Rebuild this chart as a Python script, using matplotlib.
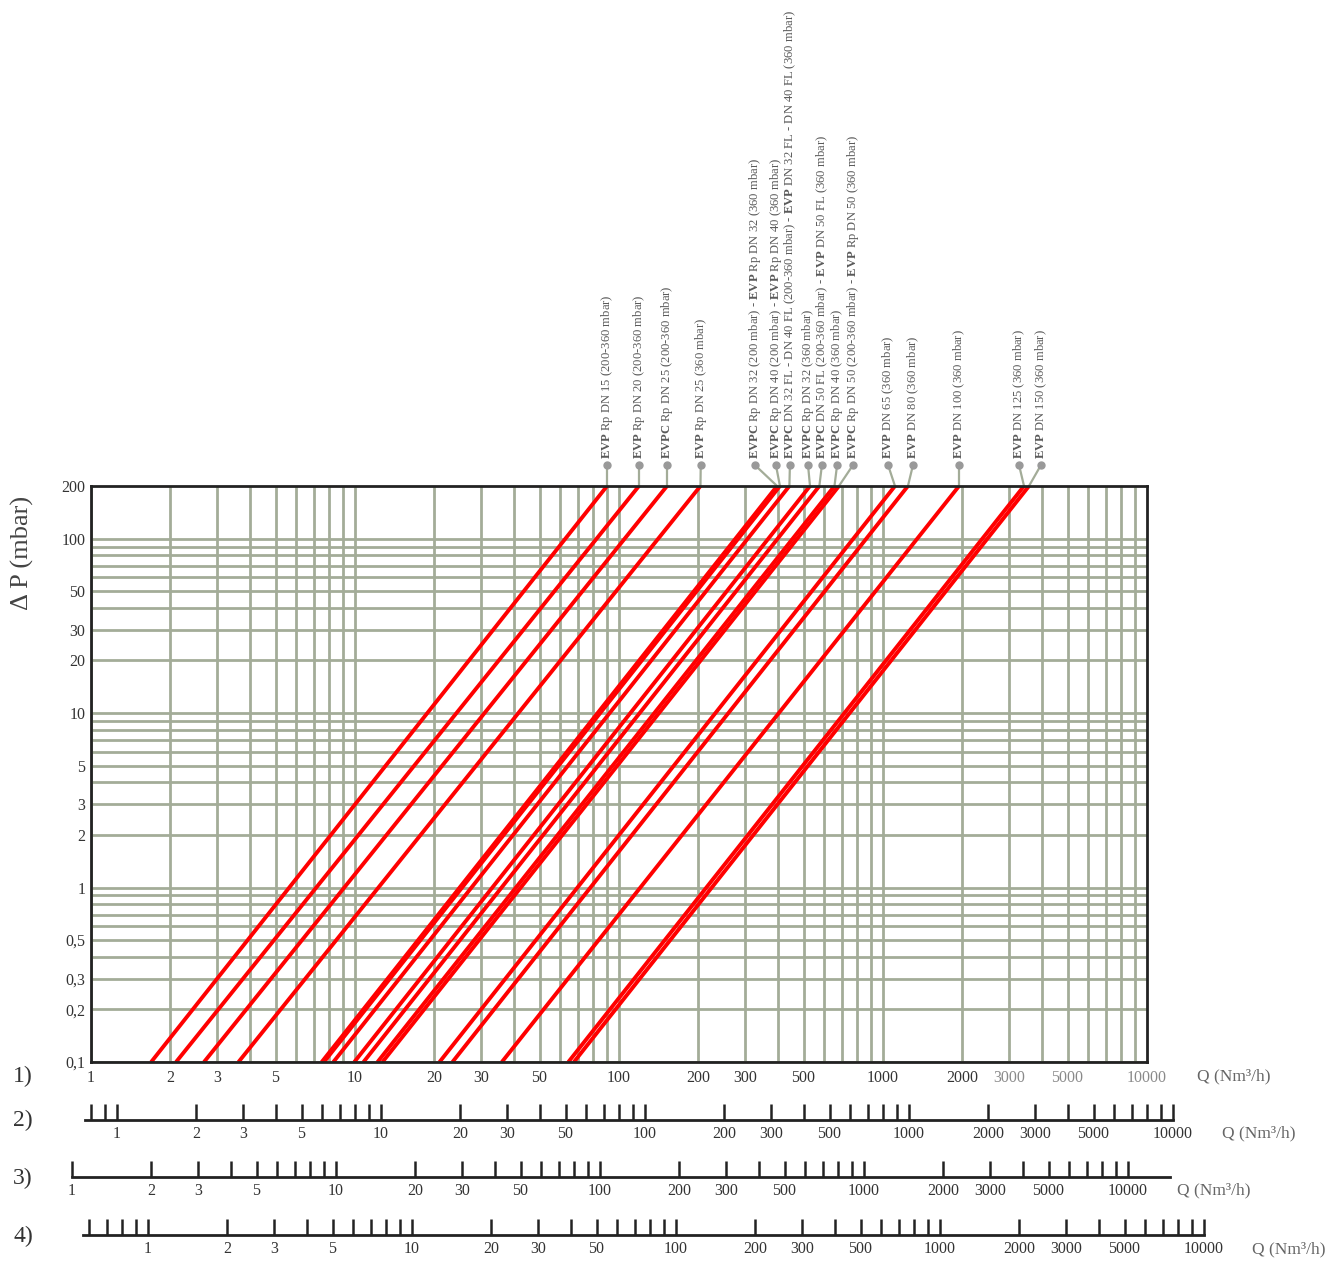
import matplotlib
matplotlib.use("Agg")
import matplotlib.pyplot as plt
import matplotlib.transforms as mtransforms
from matplotlib.ticker import NullLocator

plt.rcParams["font.family"] = ["Liberation Serif", "DejaVu Serif"]
plt.rcParams["mathtext.fontset"] = "custom"
plt.rcParams["mathtext.rm"] = "Liberation Serif"
plt.rcParams["mathtext.bf"] = "Liberation Serif:bold"

# flow (Nm3/h) at the bottom (0.1 mbar) and the top (200 mbar) of each curve
dp_low, dp_high = 0.1, 200
q_low = [1.69, 2.10, 2.68, 3.62, 7.48, 7.63, 8.28, 9.94, 10.77, 12.17, 12.71,
         20.9, 23.4, 36.0, 64.3, 67.5]
q_high = [90.1, 119, 152, 203.5, 397, 407, 442, 529, 574, 655, 681,
          1110, 1243, 1941, 3421, 3573]

B = r"$\mathbf{EVP}$"
BC = r"$\mathbf{EVPC}$"
labels = [
    B + " Rp DN 15 (200-360 mbar)",
    B + " Rp DN 20 (200-360 mbar)",
    BC + " Rp DN 25 (200-360 mbar)",
    B + " Rp DN 25 (360 mbar)",
    BC + " Rp DN 32 (200 mbar) - " + B + " Rp DN 32 (360 mbar)",
    BC + " Rp DN 40 (200 mbar) - " + B + " Rp DN 40 (360 mbar)",
    BC + " DN 32 FL - DN 40 FL (200-360 mbar) - " + B + " DN 32 FL - DN 40 FL (360 mbar)",
    BC + " Rp DN 32 (360 mbar)",
    BC + " DN 50 FL (200-360 mbar) - " + B + " DN 50 FL (360 mbar)",
    BC + " Rp DN 40 (360 mbar)",
    BC + " Rp DN 50 (200-360 mbar) - " + B + " Rp DN 50 (360 mbar)",
    B + " DN 65 (360 mbar)",
    B + " DN 80 (360 mbar)",
    B + " DN 100 (360 mbar)",
    B + " DN 125 (360 mbar)",
    B + " DN 150 (360 mbar)",
]
# where each label's dot sits along the Q axis
label_q = [90.1, 119, 152, 204, 327, 393, 444, 520, 587, 670, 770,
           1045, 1299, 1941, 3275, 3967]

dp_ticks = [0.1, 0.2, 0.3, 0.5, 1, 2, 3, 5, 10, 20, 30, 50, 100, 200]
dp_ticklabels = ["0,1", "0,2", "0,3", "0,5", "1", "2", "3", "5",
                 "10", "20", "30", "50", "100", "200"]
q_ticks = [1, 2, 3, 5, 10, 20, 30, 50, 100, 200, 300, 500,
           1000, 2000, 3000, 5000, 10000]
q_ticklabels = [str(v) for v in q_ticks]

q_grid = [m * 10 ** k for k in range(4) for m in range(1, 10)]
dp_grid = [m * 10.0 ** k for k in (-1, 0, 1) for m in range(1, 10)] + [100]

# extra scales 1)..4): first tick value of each row
row_names = ["1)", "2)", "3)", "4)"]
row_first_tick = [None, 0.8, 1, 0.6]

W, H = 1335, 1271
DEC = 264.0  # pixels per decade on the Q scales
GRID = "#a3ac98"
DARK = "#222222"


def rect(x0, y0, x1, y1):
    return [x0 / W, 1 - y1 / H, (x1 - x0) / W, (y1 - y0) / H]


fig = plt.figure(figsize=(W / 100, H / 100), dpi=100)
ax = fig.add_axes(rect(91, 486, 1147, 1062))
ax.set_xscale("log")
ax.set_yscale("log")

for q in q_grid:
    ax.axvline(q, color=GRID, lw=2.0, zorder=1)
for p in dp_grid:
    ax.axhline(p, color=GRID, lw=2.0, zorder=1)

for lo, hi in zip(q_low, q_high):
    ax.plot([lo, hi], [dp_low, dp_high], color="#ff0000", lw=2.8,
            solid_capstyle="butt", zorder=3)

ax.set_xlim(1, 10000)
ax.set_ylim(dp_low, dp_high)
ax.xaxis.set_minor_locator(NullLocator())
ax.yaxis.set_minor_locator(NullLocator())
ax.set_xticks(q_ticks, labels=q_ticklabels)
ax.set_yticks(dp_ticks, labels=dp_ticklabels)
ax.tick_params(length=0, labelsize=11.5, colors="#333333")
ax.tick_params(axis="x", pad=6)
ax.tick_params(axis="y", pad=4)
for t in ax.get_xticklabels()[-3:]:
    t.set_color("#8a8a8a")
for s in ax.spines.values():
    s.set_color(DARK)
    s.set_linewidth(2.0)
    s.set_zorder(4)

# label leaders above the chart
trans = mtransforms.blended_transform_factory(ax.transData, ax.transAxes)
dot_y = 1 + 21 / 576
for text, qd, qt in zip(labels, label_q, q_high):
    ax.plot([qd, qt], [dot_y, 1.0], color=GRID, lw=1.6, transform=trans,
            clip_on=False, zorder=2)
    ax.plot([qd], [dot_y], "o", ms=5, color="#999999", transform=trans,
            clip_on=False, zorder=2)
    ax.annotate(text, xy=(qd, dot_y), xycoords=trans, xytext=(0, 4),
                textcoords="offset points", rotation=90, ha="center",
                va="bottom", fontsize=9.1, color="#5a5a5a")

# extra Q scales under the chart: (left px, right px, spine y px, px of "1")
rows = [(85, 1173, 1120, 117), (72, 1170, 1177, 72), (83, 1204, 1235, 148)]
for (x0, x1, yb, one), first in zip(rows, row_first_tick[1:]):
    rax = fig.add_axes(rect(x0, yb - 20, x1, yb))
    rax.set_xscale("log")
    rax.set_xlim(10 ** ((x0 - one) / DEC), 10 ** ((x1 - one) / DEC))
    ticks = [m * 10.0 ** k for k in range(-1, 5) for m in range(1, 10)]
    ticks = [t for t in ticks if first - 1e-9 <= t <= 10000 + 1e-6]
    tl = [q_ticklabels[q_ticks.index(round(t))] if round(t, 6) in q_ticks else ""
          for t in ticks]
    rax.xaxis.set_minor_locator(NullLocator())
    rax.set_xticks(ticks, labels=tl)
    rax.tick_params(axis="x", direction="in", length=11.5, width=1.8,
                    color=DARK, labelsize=11.5, labelcolor="#333333", pad=4)
    rax.set_yticks([])
    for side in ("top", "left", "right"):
        rax.spines[side].set_visible(False)
    rax.spines["bottom"].set_color(DARK)
    rax.spines["bottom"].set_linewidth(2.0)
    rax.patch.set_alpha(0)

for name, yp in zip(row_names, [1076, 1120, 1178, 1236]):
    fig.text(23 / W, 1 - yp / H, name, fontsize=17, color="#333333",
             ha="center", va="center")

for xp, yp in [(1197, 1076), (1222, 1133), (1177, 1190), (1252, 1249)]:
    fig.text(xp / W, 1 - yp / H, "Q (Nm³/h)", fontsize=12.5,
             color="#666666", ha="left", va="center")

fig.text(22 / W, 1 - 553 / H, "Δ P (mbar)", fontsize=19, color="#444444",
         rotation=90, ha="center", va="center")

fig.savefig("out.png", dpi=100)
